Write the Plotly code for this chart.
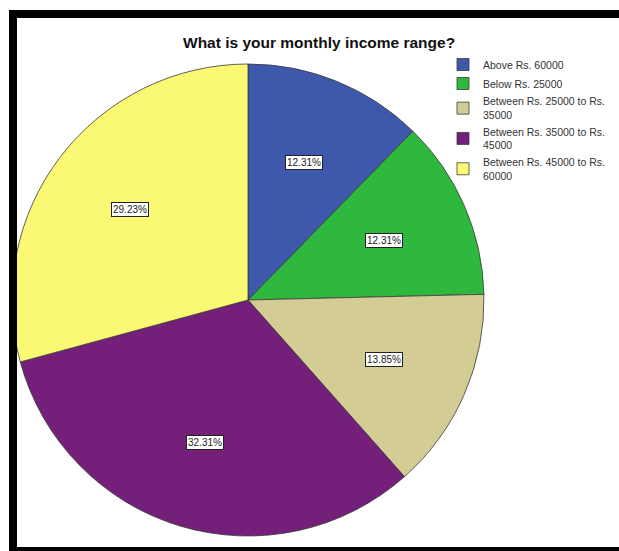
import math
import plotly.graph_objects as go

categories = ["Above Rs. 60000", "Below Rs. 25000", "Between Rs. 25000 to Rs.<br>35000",
              "Between Rs. 35000 to Rs.<br>45000", "Between Rs. 45000 to Rs.<br>60000"]
percentages = [12.31, 12.31, 13.85, 32.31, 29.23]
colors = ["#3E58AC", "#2EB83E", "#D4CC95", "#741F7A", "#FBF873"]
title = "What is your monthly income range?"

W, H = 619, 551
cx_px, cy_px, r_px = 248, 300, 236
dom_x = [(cx_px - r_px) / W, (cx_px + r_px) / W]
dom_y = [1 - (cy_px + r_px) / H, 1 - (cy_px - r_px) / H]

fig = go.Figure()
fig.add_trace(go.Pie(
    labels=categories, values=percentages, sort=False, direction="clockwise", rotation=0,
    marker=dict(colors=colors, line=dict(color="#3a3a3a", width=0.8)),
    textinfo="none", hoverinfo="label+percent",
    domain=dict(x=dom_x, y=dom_y),
))

# boxed percentage labels placed at each slice's mid-angle
total = sum(percentages)
cum = 0.0
annotations = []
frac = 0.63
for v in percentages:
    mid = (cum + v / 2) / total * 2 * math.pi
    cum += v
    px = cx_px + frac * r_px * math.sin(mid)
    py = cy_px - frac * r_px * math.cos(mid)
    annotations.append(dict(
        x=px / W, y=1 - py / H, xref="paper", yref="paper", showarrow=False,
        xanchor="center", yanchor="middle",
        text=f"{v:.2f}%", font=dict(family="Arial, Liberation Sans", size=10, color="#222"),
        bgcolor="white", bordercolor="#222", borderwidth=1, borderpad=1,
    ))
annotations.append(dict(
    x=319 / W, y=1 - 43 / H, xref="paper", yref="paper", showarrow=False,
    xanchor="center", yanchor="middle",
    text=f"<b>{title}</b>", font=dict(family="Arial, Liberation Sans", size=15.5, color="#111"),
))

def rect(x0, y0, x1, y1, color="black"):
    return dict(type="rect", xref="paper", yref="paper", x0=x0 / W, x1=x1 / W,
                y0=1 - y1 / H, y1=1 - y0 / H, fillcolor=color, line=dict(width=0), layer="above")

shapes = [rect(9, 10, 619, 18), rect(9, 10, 17, 551), rect(9, 547, 619, 551)]

fig.update_layout(
    width=W, height=H, margin=dict(l=0, r=0, t=0, b=0),
    paper_bgcolor="white", plot_bgcolor="white",
    annotations=annotations, shapes=shapes,
    showlegend=True,
    legend=dict(x=443 / W, y=1 - 50 / H, xanchor="left", yanchor="top",
                font=dict(family="Arial, Liberation Sans", size=10.5, color="#333"),
                itemwidth=30, tracegroupgap=0, bgcolor="rgba(0,0,0,0)"),
)
fig.write_html("out.html")
